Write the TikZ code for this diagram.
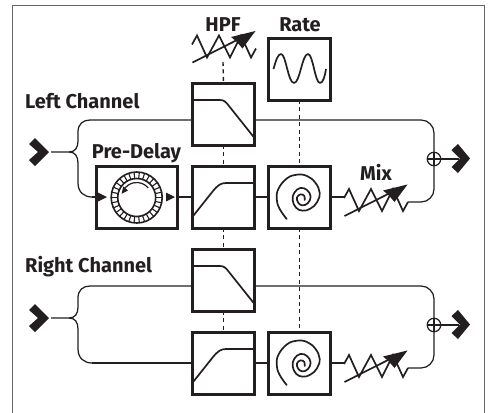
\documentclass[tikz,border=0pt]{standalone}
\usepackage{fontspec}
\setmainfont{Fira Sans}
\usetikzlibrary{arrows.meta}
\definecolor{ink}{HTML}{231F20}
\tikzset{
  fxbox/.style={draw=ink,line width=3pt,minimum width=62.5pt,minimum height=62pt,inner sep=0pt,outer sep=0pt,fill=white},
  wire/.style={draw=ink,line width=1.25pt},
  curve/.style={draw=ink,line width=1.7pt,line join=round},
  link/.style={draw=ink,line width=1.4pt,dash pattern=on 4pt off 3.4pt},
  lab/.style={font=\bfseries\fontsize{20}{22}\selectfont,text=ink,inner sep=0pt},
  sumc/.style={circle,draw=ink,line width=1.25pt,minimum size=13.5pt,inner sep=0pt,outer sep=0pt},
}
\newcommand{\varres}[3]{% dx, dy, name prefix
  \begin{scope}[shift={(#1,#2)}]
    \draw[curve,line join=miter] (344,198)--(349,189)--(359,211)--(371,189)--(382,211)--(393,189)--(403,211)--(408,202);
    \draw[ink,line width=1.7pt] (344.5,216)--(394,191);
    \fill[ink] (407.5,184.5)--(383,190.5)--(388.5,195)--(394.5,202)--cycle;
  \end{scope}}
\begin{document}
\begin{tikzpicture}[x=1pt,y=-1pt]
\useasboundingbox (0,0) rectangle (491,413);
\fill[white] (0,0) rectangle (491,413);
\draw[black!60,line width=1pt] (12,413)--(12,5)--(484,5)--(484,413);

% variable resistor of the HPF
\varres{-152}{-153.5}{hpf}
\node[lab] (hpflab) at (223,25) {HPF};
\node[lab] (ratelab) at (300,25) {Rate};
\node[lab,anchor=west] (leftlab) at (25,101) {Left Channel};
\node[lab,anchor=west] (rightlab) at (25,267) {Right Channel};
\node[lab] (delaylab) at (136.5,153) {Pre-Delay};
\node[lab] (mixlab) at (376,172) {Mix};
\coordinate (hpfres) at (223,62);

\node[fxbox] (rate) at (299.5,69) {};
\draw[curve] (273.5,69) .. controls (276,60) and (278,54) .. (281,54)
  .. controls (286,54) and (288,83) .. (294,83)
  .. controls (300,83) and (302,54) .. (308,54)
  .. controls (313,54) and (315,83) .. (320,83)
  .. controls (323,83) and (325,76) .. (326,69);

\foreach \c/\dy in {a/0,b/166}{
\begin{scope}[shift={(0,\dy)}]
  \node[fxbox] (lpf\c) at (223.5,114) {};
  \node[fxbox] (hpf\c) at (223.5,197) {};
  \node[fxbox] (spi\c) at (299.5,197) {};
  \node[sumc] (sum\c) at (434,159) {};
  \coordinate (in\c) at (51,152);
  \coordinate (fork\c) at (69,152);
  \coordinate (up\c) at (90,120);
  \coordinate (lo\c) at (92,197);
  \coordinate (out\c) at (459,159);
  \coordinate (resin\c) at (344,197);
  \coordinate (resout\c) at (408,202);
  \coordinate (bend\c) at (434,120);
  % chevrons
  \fill[ink] (29,144)--(35,138)--(49,152)--(35,166)--(29,160)--(38,152)--cycle;
  \fill[ink] (451.5,150)--(458,144)--(470,158.5)--(458,173)--(451.5,167)--(460,158.5)--cycle;
  % filter curves
  \draw[curve] (192,100)--(220,100) .. controls (224,100) and (226,102) .. (229,106)--(254.5,138);
  \draw[curve] (191.5,218)--(213,191) .. controls (218,185) and (221,183) .. (226,183)--(255,183);
  % spiral
  \begin{scope}[shift={(272,170)},x=0.3333pt,y=-0.3333pt]
  \draw[curve,line cap=round] plot[smooth,tension=0.7] coordinates {(44,147) (22,115) (14,85) (20,55) (45,25) (75,14) (105,18) (130,38) (143,68) (135,97) (115,116) (92,122) (72,113) (62,90) (67,68) (85,54) (105,60) (116,80) (107,100) (90,106) (78,97) (75,82) (86,73) (97,78) (98,90)};
  \end{scope}
  % wires
  \draw[wire] (in\c)--(fork\c) .. controls (75,152) and (78,148) .. (78,141)--(78,132) .. controls (78,124) and (83,120) .. (up\c)--(up\c -| lpf\c.west);
  \draw[wire] (fork\c) .. controls (75,152) and (78,156) .. (78,163)--(78,183) .. controls (78,192) and (84,197) .. (lo\c);
  \draw[wire] (hpf\c.east |- spi\c.west)--(spi\c.west);
  \draw[wire,rounded corners=13pt] (up\c -| lpf\c.east)--(bend\c)--(bend\c |- resout\c)--(resout\c);
  \draw[wire] (spi\c.east)--(resin\c);
  \draw[wire] (sum\c.east)--(out\c);
  \draw[wire] (sum\c.north)--(sum\c.south);
  \draw[wire] (sum\c.west)--(sum\c.east);
\end{scope}
\varres{0}{\dy}{mix\c}
}

% pre-delay
\node[fxbox,minimum width=81pt] (delay) at (136.5,197) {};
\draw[wire] (loa)--(delay.west);
\draw[wire] (delay.east)--(hpfa.west);
\draw[wire] (lob)--(hpfb.west);
\fill[ink] (98,192.5)--(107,197)--(98,201.5)--cycle;
\fill[ink] (166,192.5)--(175,197)--(166,201.5)--cycle;
\draw[ink,line width=1.6pt] (136.7,197.5) circle[radius=25.5];
\draw[ink,line width=1.6pt] (136.7,197.5) circle[radius=19];
\foreach \a in {0,12,...,348}{
  \draw[ink,line width=1.1pt] ({136.7+19*cos(\a)},{197.5+19*sin(\a)})--({136.7+25.5*cos(\a)},{197.5+25.5*sin(\a)});
}
\draw[ink,line width=1.2pt] ({136.7+15*cos(40)},{197.5-15*sin(40)}) arc[start angle=-40,end angle=-150,radius=15];
\fill[ink] (121.5,193.8)--(123.3,186.5)--(128,190.5)--cycle;

% modulation links
\draw[link] (hpfres)--(lpfa.north);
\draw[link] (lpfa.south)--(hpfa.north);
\draw[link] (hpfa.south)--(lpfb.north);
\draw[link] (lpfb.south)--(hpfb.north);
\draw[link] (rate.south)--(spia.north);
\draw[link] (spia.south)--(spib.north);
\end{tikzpicture}
\end{document}
